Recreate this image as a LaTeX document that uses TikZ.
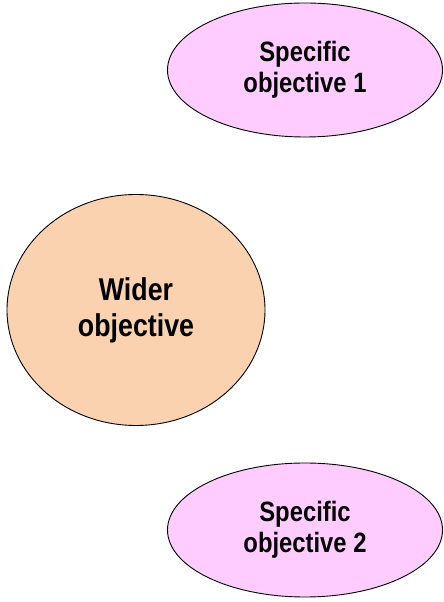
\documentclass[tikz,border=0pt]{standalone}
\usepackage{fontspec}
\newfontfamily\objfont[FakeStretch=0.85]{Liberation Sans}
\usetikzlibrary{shapes.geometric}
\definecolor{specpink}{RGB}{255,204,255}
\definecolor{widerpeach}{RGB}{250,210,176}
\tikzset{
    specific/.style={ellipse,draw=black,line width=0.9pt,fill=specpink,
        minimum width=275pt,minimum height=134pt,inner sep=0pt,align=center,
        font=\objfont\bfseries\fontsize{28}{31}\selectfont},
    wider/.style={ellipse,draw=black,line width=0.9pt,fill=widerpeach,
        minimum width=258pt,minimum height=231pt,inner sep=0pt,align=center,
        font=\objfont\bfseries\fontsize{31.5}{36}\selectfont},
}
\begin{document}
\begin{tikzpicture}[x=1pt,y=1pt]
    \useasboundingbox (0,0) rectangle (444,602);
    \node[specific] (spec1) at (305,532) {Specific\\objective 1};
    \node[wider] (wider) at (136,292) {Wider\\objective};
    \node[specific] (spec2) at (305,72) {Specific\\objective 2};
\end{tikzpicture}
\end{document}
